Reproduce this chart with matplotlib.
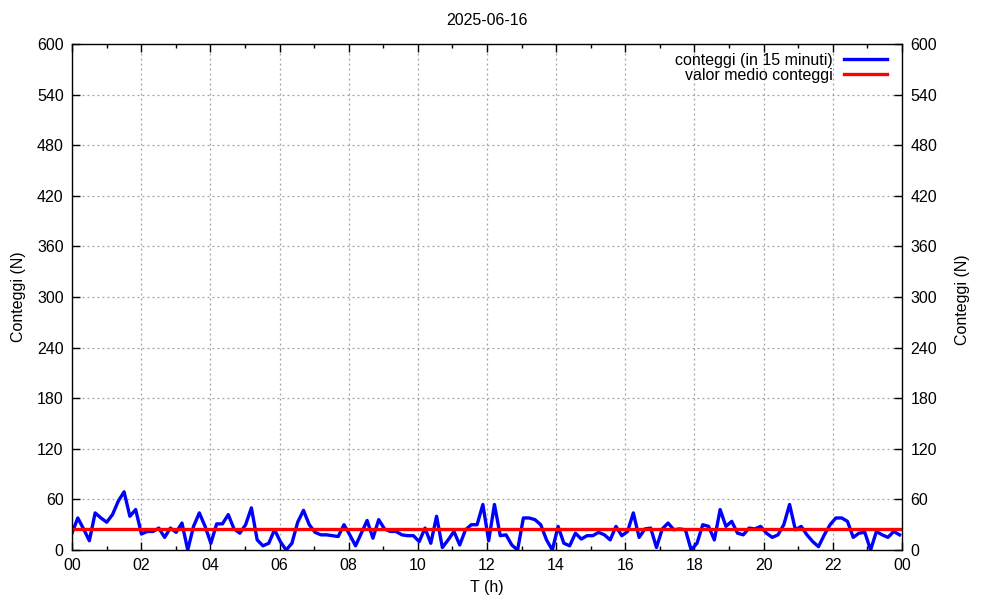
import numpy as np
import matplotlib
matplotlib.use('Agg')
import matplotlib.pyplot as plt
from matplotlib.ticker import MultipleLocator, FixedLocator

plt.rcParams['font.family'] = ['Liberation Sans', 'DejaVu Sans']
plt.rcParams['font.size'] = 11.5

dayLabel = '2025-06-16'

# conteggi ogni 10 minuti (finestra mobile di 15 minuti), dalle 00:00 alle 23:50
counts = [20, 38, 25, 11, 44, 38, 33, 42, 58, 69, 40, 48, 19, 22, 22, 26,
          15, 26, 21, 32, 0, 28, 44, 28, 8, 31, 31, 42, 25, 20, 30, 50,
          12, 5, 8, 24, 10, 0, 8, 33, 47, 30, 21, 18, 18, 17, 16, 30,
          18, 5, 20, 35, 14, 36, 25, 22, 22, 18, 17, 17, 10, 26, 8, 40,
          3, 12, 22, 6, 24, 30, 30, 54, 11, 54, 17, 18, 6, 0, 38, 38,
          36, 30, 12, 0, 28, 8, 5, 20, 13, 17, 17, 21, 18, 12, 28, 17,
          22, 44, 15, 25, 26, 3, 25, 32, 24, 25, 24, 0, 8, 30, 28, 12,
          48, 28, 34, 20, 18, 26, 25, 28, 20, 15, 18, 30, 54, 24, 28, 18,
          10, 4, 18, 30, 38, 38, 34, 15, 20, 21, 0, 22, 18, 15, 22, 18,
          26, 30]
counts = counts[:144]
hours = np.arange(len(counts)) * 10.04 / 60
meanCount = 25

fig = plt.figure(figsize=(10, 6), dpi=100)
ax = fig.add_axes([0.072, 0.0833, 0.83, 0.8434])

ax.plot(hours, counts, color='#0000ff', linewidth=2.4, label='conteggi (in 15 minuti)')
ax.plot([hours[0], hours[-1]], [meanCount, meanCount], color='#ff0000',
        linewidth=2.4, label='valor medio conteggi')

ax.set_xlim(0, 24)
ax.set_ylim(0, 600)
ax.xaxis.set_major_locator(FixedLocator(np.arange(0, 25, 2)))
ax.xaxis.set_minor_locator(MultipleLocator(1))
ax.set_xticklabels(['%02d' % (h % 24) for h in range(0, 25, 2)])
ax.set_yticks(np.arange(0, 601, 60))

ax.tick_params(which='both', direction='in', top=True, right=True,
               labelright=True, width=1, colors='black')
ax.tick_params(which='major', length=6, pad=6)
ax.tick_params(which='minor', length=3)
ax.grid(True, which='major', color='#a0a0a0', linestyle=(0, (1.5, 2.5)), linewidth=0.9)
for s in ax.spines.values():
    s.set_linewidth(1)

ax.set_title(dayLabel, fontsize=11.5, pad=14)
ax.set_xlabel('T (h)', labelpad=5)
ax.set_ylabel('Conteggi (N)', labelpad=8)
fig.text(0.962, 0.5, 'Conteggi (N)', rotation=90, ha='center', va='center')

leg = ax.legend(loc='upper right', bbox_to_anchor=(0.996, 1.005), frameon=False,
                markerfirst=False, handlelength=2.75, handletextpad=0.7,
                labelspacing=0.0, borderaxespad=0.3)

fig.savefig('out.png', dpi=100)
